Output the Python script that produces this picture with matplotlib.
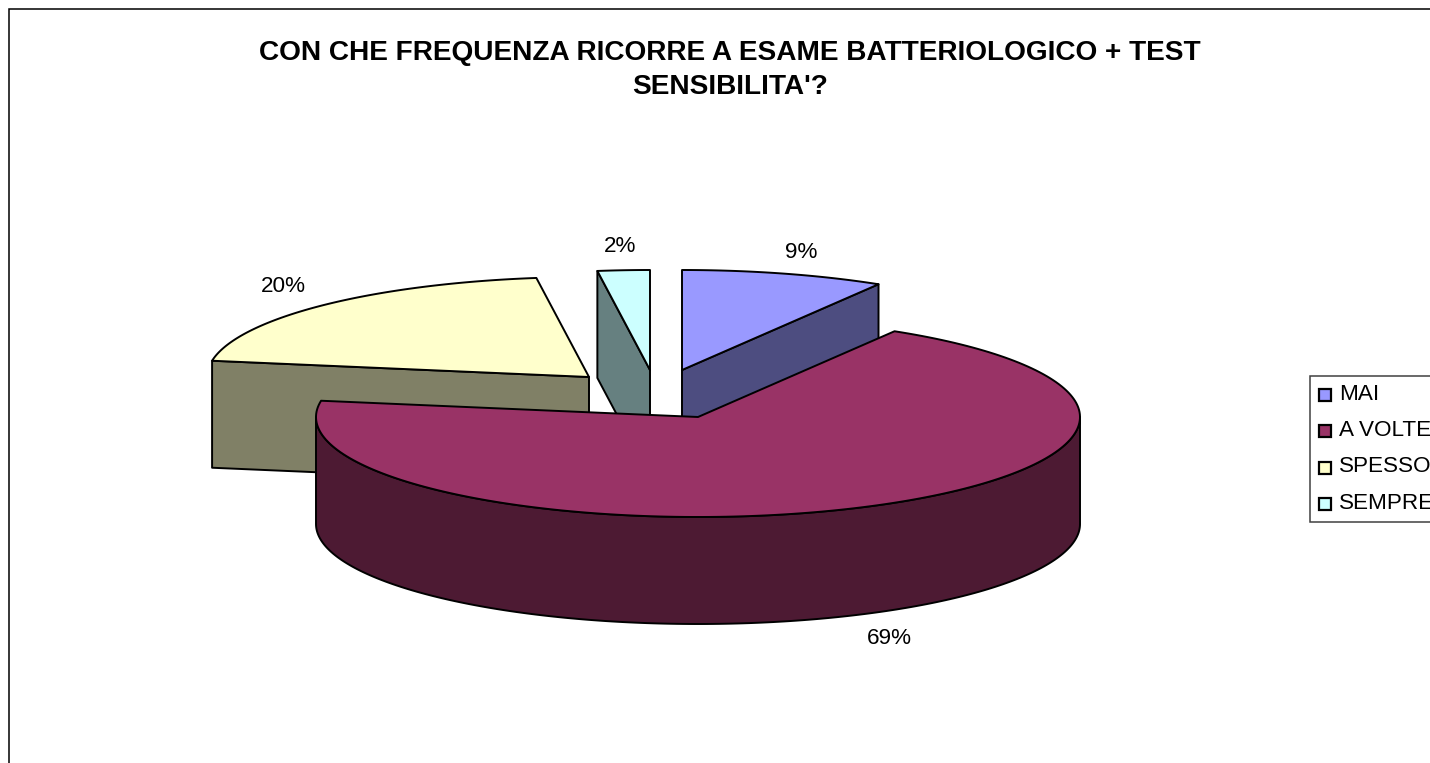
import numpy as np
import matplotlib
matplotlib.use("Agg")
import matplotlib.pyplot as plt
from matplotlib.patches import Polygon, Rectangle

plt.rcParams['font.family'] = ['Liberation Sans', 'DejaVu Sans']

categories = ["MAI", "A VOLTE", "SPESSO", "SEMPRE"]
values = [8.6, 69.0, 20.2, 2.2]
colors = ["#9999FF", "#993366", "#FFFFCC", "#CCFFFF"]
title = "CON CHE FREQUENZA RICORRE A ESAME BATTERIOLOGICO + TEST\nSENSIBILITA'?"

# layout, in pixels of the output image
apex = {"MAI": (682, 370), "A VOLTE": (698, 417), "SPESSO": (589, 377), "SEMPRE": (650, 370)}
label_pos = {"MAI": (801, 253), "A VOLTE": (889, 638), "SPESSO": (283, 286), "SEMPRE": (620, 247)}
rx, ry = 382, 100
depth = 107
lw = 1.4


def rim(name, t):
    # t is degrees clockwise from 12 o'clock
    cx, cy = apex[name]
    t = np.radians(t)
    return np.column_stack([cx + rx * np.sin(t), cy - ry * np.cos(t)])


def shade(c):
    return tuple(0.5 * v for v in matplotlib.colors.to_rgb(c))


def poly(ax, pts, color):
    ax.add_patch(Polygon(pts, closed=True, facecolor=color, edgecolor="black",
                         linewidth=lw, joinstyle="round"))


fig = plt.figure(figsize=(14.30, 7.63), dpi=100)
ax = fig.add_axes([0, 0, 1, 1])
ax.set_xlim(0, 1430)
ax.set_ylim(763, 0)
ax.axis("off")

# chart frame runs off the right and bottom of the picture
ax.add_patch(Rectangle((9, 9), 1500, 800, facecolor="white", edgecolor="black", linewidth=1.1))

ends = np.cumsum(values) / sum(values) * 360
starts = ends - np.array(values) / sum(values) * 360
idx = {n: i for i, n in enumerate(categories)}

# back slices first, big one last as it covers the others
for name in ["SEMPRE", "SPESSO", "MAI", "A VOLTE"]:
    i = idx[name]
    a0, a1 = starts[i], ends[i]
    c = colors[i]
    ap = np.array([apex[name]], dtype=float)
    down = np.array([0, depth])
    arc = rim(name, np.linspace(a0, a1, 200))

    # sides facing the viewer
    if name == "A VOLTE":
        front = rim(name, np.linspace(90, 270, 200))
        poly(ax, np.vstack([front, (front + down)[::-1]]), shade(c))
    elif name == "MAI":
        poly(ax, np.vstack([ap, arc[-1:], arc[-1:] + down, ap + down]), shade(c))
    else:
        poly(ax, np.vstack([arc[:1], ap, ap + down, arc[:1] + down]), shade(c))

    poly(ax, np.vstack([ap, arc]), c)

    x, y = label_pos[name]
    ax.text(x, y, f"{values[i]:.0f}%", fontsize=16.2, ha="center", va="center", color="black")

fig.text(730 / 1430, 1 - 70 / 763, title, fontsize=20.2, fontweight="bold", ha="center",
         va="center", linespacing=1.45, color="black")

# legend box, cut by the edge of the picture like the original
ax.add_patch(Rectangle((1310, 376), 200, 146, facecolor="white", edgecolor="#404040", linewidth=1.1))
for i, name in enumerate(categories):
    y = 395 + i * 36.4
    ax.add_patch(Rectangle((1319, y - 6), 12, 12, facecolor=colors[i], edgecolor="black", linewidth=1.6))
    ax.text(1339, y - 1, name, fontsize=16.2, ha="left", va="center", color="black")

fig.savefig("out.png", dpi=100)
